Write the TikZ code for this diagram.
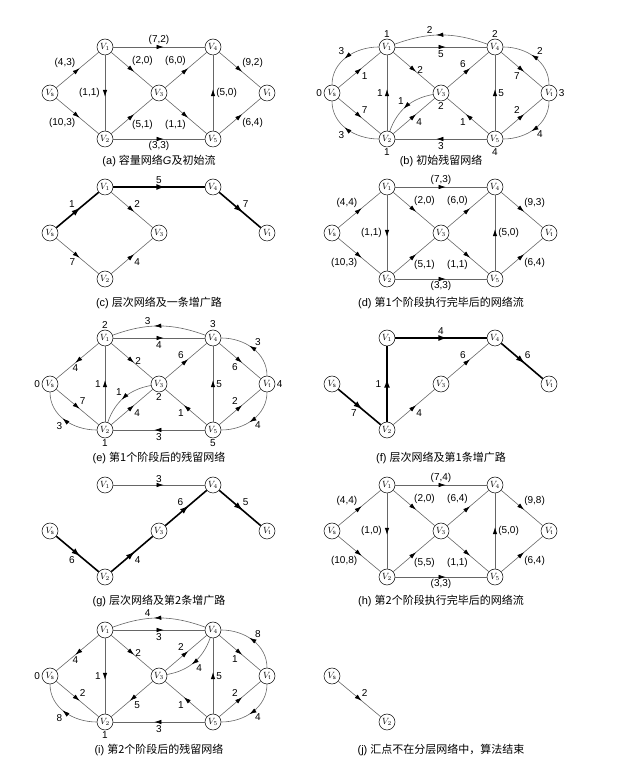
\documentclass[tikz,border=0pt]{standalone}
\usepackage{fontspec}
\setmainfont{Liberation Sans}
\newfontfamily\cjk{Noto Sans CJK SC}
\usetikzlibrary{arrows.meta,decorations.markings}
\tikzset{
  vtx/.style = {circle, draw, fill=white, line width=0.5pt,
                minimum size=16pt, inner sep=0pt,
                font=\fontsize{9}{9}\selectfont},
  lvl/.style = {font=\fontsize{10}{12}\selectfont, inner sep=1.5pt},
  arcline/.style = {draw=black!60, line width=0.6pt, postaction={decorate},
                decoration={markings, mark=at position 0.55 with
                {\arrow[black]{Latex[length=7pt,width=4.5pt]}}}},
  augline/.style = {draw=black, line width=1.6pt, postaction={decorate},
                decoration={markings, mark=at position 0.57 with
                {\arrow[black]{Latex[length=9pt,width=6pt]}}}},
  subcap/.style = {font=\fontsize{11}{13}\selectfont, inner sep=0pt}
}

\begin{document}
\begin{tikzpicture}[x=1pt, y=1pt,
    every node/.append style={font=\fontsize{10}{12}\selectfont, inner sep=2pt}]
	\def \xS{50}
	\def \xA{105}
	\def \xB{159}
	\def \xC{213}
	\def \xT{267}
	\def \dy{46}
	
	\useasboundingbox (0,0) rectangle (624,769);
	
	% (a) capacity network
	\begin{scope}[shift={(0,676)}]
	\node[vtx] (aS) at (\xS,0)    {$V_\mathrm{s}$};
	\node[vtx] (a1) at (\xA,\dy)  {$V_1$};
	\node[vtx] (a2) at (\xA,-\dy) {$V_2$};
	\node[vtx] (a3) at (\xB,0)    {$V_3$};
	\node[vtx] (a4) at (\xC,\dy)  {$V_4$};
	\node[vtx] (a5) at (\xC,-\dy) {$V_5$};
	\node[vtx] (aT) at (\xT,0)    {$V_\mathrm{t}$};
	\draw[arcline] (aS) -- node[above left]  {(4,3)}  (a1);
	\draw[arcline] (aS) -- node[below left]  {(10,3)} (a2);
	\draw[arcline] (a1) -- node[left=3pt]    {(1,1)}  (a2);
	\draw[arcline] (a1) -- node[above]       {(7,2)}  (a4);
	\draw[arcline] (a1) -- node[above right, pos=.45] {(2,0)} (a3);
	\draw[arcline] (a2) -- node[below right, pos=.45] {(5,1)} (a3);
	\draw[arcline] (a2) -- node[below]       {(3,3)}  (a5);
	\draw[arcline] (a3) -- node[above left, pos=.55]  {(6,0)} (a4);
	\draw[arcline] (a3) -- node[below left, pos=.55]  {(1,1)} (a5);
	\draw[arcline] (a5) -- node[right=1pt]   {(5,0)}  (a4);
	\draw[arcline] (a4) -- node[above right] {(9,2)}  (aT);
	\draw[arcline] (a5) -- node[below right] {(6,4)}  (aT);
	\node[subcap] (capA) at (\xB,-68) {(a) {\cjk 容量网络}\textit{G}{\cjk 及初始流}};
	\end{scope}
	
	% (b) first residual network
	\begin{scope}[shift={(282,676)}]
	\node[vtx, label={[lvl]left:0}]  (bS) at (\xS,0)    {$V_\mathrm{s}$};
	\node[vtx, label={[lvl]above:1}] (b1) at (\xA,\dy)  {$V_1$};
	\node[vtx, label={[lvl]below:1}] (b2) at (\xA,-\dy) {$V_2$};
	\node[vtx, label={[lvl]below:2}] (b3) at (\xB,0)    {$V_3$};
	\node[vtx, label={[lvl]above:2}] (b4) at (\xC,\dy)  {$V_4$};
	\node[vtx, label={[lvl]below:4}] (b5) at (\xC,-\dy) {$V_5$};
	\node[vtx, label={[lvl]right:3}] (bT) at (\xT,0)    {$V_\mathrm{t}$};
	\draw[arcline] (b1) to[out=180,in=90] node[above left] {3} (bS);
	\draw[arcline] (bS) -- node[below right] {1} (b1);
	\draw[arcline] (bS) -- node[above right] {7} (b2);
	\draw[arcline] (b2) to[out=180,in=-90] node[below left] {3} (bS);
	\draw[arcline] (b4) to[bend right=20] node[above, pos=.63] {2} (b1);
	\draw[arcline] (b1) -- node[below=1pt] {5} (b4);
	\draw[arcline] (b2) -- node[left=2pt] {1} (b1);
	\draw[arcline] (b1) -- node[right=1pt] {2} (b3);
	\draw[arcline] (b3) to[bend right=30] node[above left] {1} (b2);
	\draw[arcline] (b2) -- node[below right] {4} (b3);
	\draw[arcline] (b3) -- node[above left] {6} (b4);
	\draw[arcline] (b5) -- node[below left] {1} (b3);
	\draw[arcline] (b5) -- node[right=1pt] {5} (b4);
	\draw[arcline] (b5) -- node[below=1pt] {3} (b2);
	\draw[arcline] (b4) -- node[below left] {7} (bT);
	\draw[arcline] (bT) to[out=90,in=0] node[above right] {2} (b4);
	\draw[arcline] (b5) -- node[above left] {2} (bT);
	\draw[arcline] (bT) to[out=-90,in=0] node[below right] {4} (b5);
	\node[subcap] (capB) at (\xB,-68) {(b) {\cjk 初始残留网络}};
	\end{scope}
	
	% (c) level network, one augmenting path
	\begin{scope}[shift={(0,536)}]
	\node[vtx] (cS) at (\xS,0)    {$V_\mathrm{s}$};
	\node[vtx] (c1) at (\xA,\dy)  {$V_1$};
	\node[vtx] (c2) at (\xA,-\dy) {$V_2$};
	\node[vtx] (c3) at (\xB,0)    {$V_3$};
	\node[vtx] (c4) at (\xC,\dy)  {$V_4$};
	\node[vtx] (cT) at (\xT,0)    {$V_\mathrm{t}$};
	\draw[augline] (cS) -- node[above left] {1} (c1);
	\draw[augline] (c1) -- node[above=1pt] {5} (c4);
	\draw[augline] (c4) -- node[above right] {7} (cT);
	\draw[arcline] (c1) -- node[above right] {2} (c3);
	\draw[arcline] (cS) -- node[below left] {7} (c2);
	\draw[arcline] (c2) -- node[below right] {4} (c3);
	\node[subcap] (capC) at (\xB,-70) {(c) {\cjk 层次网络及一条增广路}};
	\end{scope}
	
	% (d) flow after stage 1
	\begin{scope}[shift={(282,536)}]
	\node[vtx] (dS) at (\xS,0)    {$V_\mathrm{s}$};
	\node[vtx] (d1) at (\xA,\dy)  {$V_1$};
	\node[vtx] (d2) at (\xA,-\dy) {$V_2$};
	\node[vtx] (d3) at (\xB,0)    {$V_3$};
	\node[vtx] (d4) at (\xC,\dy)  {$V_4$};
	\node[vtx] (d5) at (\xC,-\dy) {$V_5$};
	\node[vtx] (dT) at (\xT,0)    {$V_\mathrm{t}$};
	\draw[arcline] (dS) -- node[above left]  {(4,4)}  (d1);
	\draw[arcline] (dS) -- node[below left]  {(10,3)} (d2);
	\draw[arcline] (d1) -- node[left=3pt]    {(1,1)}  (d2);
	\draw[arcline] (d1) -- node[above]       {(7,3)}  (d4);
	\draw[arcline] (d1) -- node[above right, pos=.45] {(2,0)} (d3);
	\draw[arcline] (d2) -- node[below right, pos=.45] {(5,1)} (d3);
	\draw[arcline] (d2) -- node[below]       {(3,3)}  (d5);
	\draw[arcline] (d3) -- node[above left, pos=.55]  {(6,0)} (d4);
	\draw[arcline] (d3) -- node[below left, pos=.55]  {(1,1)} (d5);
	\draw[arcline] (d5) -- node[right=1pt]   {(5,0)}  (d4);
	\draw[arcline] (d4) -- node[above right] {(9,3)}  (dT);
	\draw[arcline] (d5) -- node[below right] {(6,4)}  (dT);
	\node[subcap] (capD) at (\xB,-70) {(d) {\cjk 第1个阶段执行完毕后的网络流}};
	\end{scope}
	
	% (e) residual network after stage 1
	\begin{scope}[shift={(0,385)}]
	\node[vtx, label={[lvl]left:0}]  (eS) at (\xS,0)    {$V_\mathrm{s}$};
	\node[vtx, label={[lvl]above:2}] (e1) at (\xA,\dy)  {$V_1$};
	\node[vtx, label={[lvl]below:1}] (e2) at (\xA,-\dy) {$V_2$};
	\node[vtx, label={[lvl]below:2}] (e3) at (\xB,0)    {$V_3$};
	\node[vtx, label={[lvl]above:3}] (e4) at (\xC,\dy)  {$V_4$};
	\node[vtx, label={[lvl]below:5}] (e5) at (\xC,-\dy) {$V_5$};
	\node[vtx, label={[lvl]right:4}] (eT) at (\xT,0)    {$V_\mathrm{t}$};
	\draw[arcline] (e4) to[bend right=20] node[above, pos=.63] {3} (e1);
	\draw[arcline] (e1) -- node[below=1pt] {4} (e4);
	\draw[arcline] (e1) -- node[below, pos=.55] {4} (eS);
	\draw[arcline] (eS) -- node[above right] {7} (e2);
	\draw[arcline] (e2) to[out=180,in=-90] node[below left] {3} (eS);
	\draw[arcline] (e2) -- node[left=2pt] {1} (e1);
	\draw[arcline] (e1) -- node[right=1pt] {2} (e3);
	\draw[arcline] (e3) to[bend right=30] node[above left] {1} (e2);
	\draw[arcline] (e2) -- node[below right] {4} (e3);
	\draw[arcline] (e3) -- node[above left] {6} (e4);
	\draw[arcline] (e5) -- node[below left] {1} (e3);
	\draw[arcline] (e5) -- node[right=1pt] {5} (e4);
	\draw[arcline] (e5) -- node[below=1pt] {3} (e2);
	\draw[arcline] (e4) -- node[below left] {6} (eT);
	\draw[arcline] (eT) to[out=90,in=0] node[above right] {3} (e4);
	\draw[arcline] (e5) -- node[above left] {2} (eT);
	\draw[arcline] (eT) to[out=-90,in=0] node[below right] {4} (e5);
	\node[subcap] (capE) at (\xB,-74) {(e) {\cjk 第1个阶段后的残留网络}};
	\end{scope}
	
	% (f) level network, augmenting path 1
	\begin{scope}[shift={(282,385)}]
	\node[vtx] (fS) at (\xS,0)    {$V_\mathrm{s}$};
	\node[vtx] (f1) at (\xA,\dy)  {$V_1$};
	\node[vtx] (f2) at (\xA,-\dy) {$V_2$};
	\node[vtx] (f3) at (\xB,0)    {$V_3$};
	\node[vtx] (f4) at (\xC,\dy)  {$V_4$};
	\node[vtx] (fT) at (\xT,0)    {$V_\mathrm{t}$};
	\draw[augline] (fS) -- node[below left] {7} (f2);
	\draw[augline] (f2) -- node[left=3pt] {1} (f1);
	\draw[augline] (f1) -- node[above=1pt] {4} (f4);
	\draw[augline] (f4) -- node[above right] {6} (fT);
	\draw[arcline] (f2) -- node[below right] {4} (f3);
	\draw[arcline] (f3) -- node[above left] {6} (f4);
	\node[subcap] (capF) at (\xB,-74) {(f) {\cjk 层次网络及第1条增广路}};
	\end{scope}
	
	% (g) level network, augmenting path 2
	\begin{scope}[shift={(0,238)}]
	\node[vtx] (gS) at (\xS,0)    {$V_\mathrm{s}$};
	\node[vtx] (g1) at (\xA,\dy)  {$V_1$};
	\node[vtx] (g2) at (\xA,-\dy) {$V_2$};
	\node[vtx] (g3) at (\xB,0)    {$V_3$};
	\node[vtx] (g4) at (\xC,\dy)  {$V_4$};
	\node[vtx] (gT) at (\xT,0)    {$V_\mathrm{t}$};
	\draw[arcline] (g1) -- node[above] {3} (g4);
	\draw[augline] (gS) -- node[below left] {6} (g2);
	\draw[augline] (g2) -- node[below right] {4} (g3);
	\draw[augline] (g3) -- node[above left] {6} (g4);
	\draw[augline] (g4) -- node[above right] {5} (gT);
	\node[subcap] (capG) at (\xB,-70) {(g) {\cjk 层次网络及第2条增广路}};
	\end{scope}
	
	% (h) flow after stage 2
	\begin{scope}[shift={(282,238)}]
	\node[vtx] (hS) at (\xS,0)    {$V_\mathrm{s}$};
	\node[vtx] (h1) at (\xA,\dy)  {$V_1$};
	\node[vtx] (h2) at (\xA,-\dy) {$V_2$};
	\node[vtx] (h3) at (\xB,0)    {$V_3$};
	\node[vtx] (h4) at (\xC,\dy)  {$V_4$};
	\node[vtx] (h5) at (\xC,-\dy) {$V_5$};
	\node[vtx] (hT) at (\xT,0)    {$V_\mathrm{t}$};
	\draw[arcline] (hS) -- node[above left]  {(4,4)}  (h1);
	\draw[arcline] (hS) -- node[below left]  {(10,8)} (h2);
	\draw[arcline] (h1) -- node[left=3pt]    {(1,0)}  (h2);
	\draw[arcline] (h1) -- node[above]       {(7,4)}  (h4);
	\draw[arcline] (h1) -- node[above right, pos=.45] {(2,0)} (h3);
	\draw[arcline] (h2) -- node[below right, pos=.45] {(5,5)} (h3);
	\draw[arcline] (h2) -- node[below]       {(3,3)}  (h5);
	\draw[arcline] (h3) -- node[above left, pos=.55]  {(6,4)} (h4);
	\draw[arcline] (h3) -- node[below left, pos=.55]  {(1,1)} (h5);
	\draw[arcline] (h5) -- node[right=1pt]   {(5,0)}  (h4);
	\draw[arcline] (h4) -- node[above right] {(9,8)}  (hT);
	\draw[arcline] (h5) -- node[below right] {(6,4)}  (hT);
	\node[subcap] (capH) at (\xB,-70) {(h) {\cjk 第2个阶段执行完毕后的网络流}};
	\end{scope}
	
	% (i) residual network after stage 2
	\begin{scope}[shift={(0,93)}]
	\node[vtx, label={[lvl]left:0}]  (iS) at (\xS,0)    {$V_\mathrm{s}$};
	\node[vtx] (i1) at (\xA,\dy)  {$V_1$};
	\node[vtx, label={[lvl]below:1}] (i2) at (\xA,-\dy) {$V_2$};
	\node[vtx] (i3) at (\xB,0)    {$V_3$};
	\node[vtx] (i4) at (\xC,\dy)  {$V_4$};
	\node[vtx] (i5) at (\xC,-\dy) {$V_5$};
	\node[vtx] (iT) at (\xT,0)    {$V_\mathrm{t}$};
	\draw[arcline] (i4) to[bend right=20] node[above, pos=.63] {4} (i1);
	\draw[arcline] (i1) -- node[below=1pt] {3} (i4);
	\draw[arcline] (i1) -- node[below, pos=.55] {4} (iS);
	\draw[arcline] (iS) -- node[above right] {2} (i2);
	\draw[arcline] (i2) to[out=180,in=-90] node[below left] {8} (iS);
	\draw[arcline] (i1) -- node[left=2pt] {1} (i2);
	\draw[arcline] (i1) -- node[right=1pt] {2} (i3);
	\draw[arcline] (i3) -- node[below right] {5} (i2);
	\draw[arcline] (i3) -- node[above left] {2} (i4);
	\draw[arcline] (i4) to[bend left=30] node[below right] {4} (i3);
	\draw[arcline] (i5) -- node[below left] {1} (i3);
	\draw[arcline] (i5) -- node[right=1pt] {5} (i4);
	\draw[arcline] (i5) -- node[below=1pt] {3} (i2);
	\draw[arcline] (i4) -- node[below left] {1} (iT);
	\draw[arcline] (iT) to[out=90,in=0] node[above right] {8} (i4);
	\draw[arcline] (i5) -- node[above left] {2} (iT);
	\draw[arcline] (iT) to[out=-90,in=0] node[below right] {4} (i5);
	\node[subcap] (capI) at (\xB,-74) {(i) {\cjk 第2个阶段后的残留网络}};
	\end{scope}
	
	% (j) sink not reached, stop
	\begin{scope}[shift={(282,93)}]
	\node[vtx] (jS) at (\xS,0)    {$V_\mathrm{s}$};
	\node[vtx] (j2) at (\xA,-\dy) {$V_2$};
	\draw[arcline] (jS) -- node[above right] {2} (j2);
	\node[subcap] (capJ) at (\xB,-74) {(j) {\cjk 汇点不在分层网络中，算法结束}};
	\end{scope}
	
\end{tikzpicture}
\end{document}
